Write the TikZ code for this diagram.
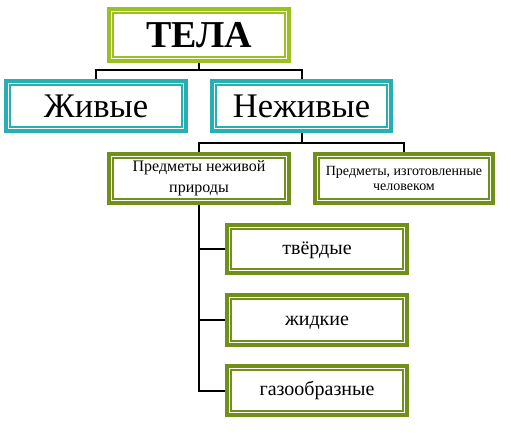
\documentclass[tikz,border=0pt]{standalone}
\usepackage{fontspec}
\setmainfont{Liberation Serif}
\definecolor{telagreen}{RGB}{155,192,32}
\definecolor{bodyteal}{RGB}{38,176,178}
\definecolor{itemgreen}{RGB}{112,144,26}
\tikzset{
  framebox/.style={draw=#1, line width=4pt, fill=white, align=center,
    inner sep=0pt,
    path picture={\draw[#1, line width=1.5pt]
      ([shift={(3.9pt,3.9pt)}]path picture bounding box.south west) rectangle
      ([shift={(-3.9pt,-3.9pt)}]path picture bounding box.north east);}},
  statebox/.style={framebox=itemgreen, minimum width=180pt,
    font=\fontsize{20}{22}\selectfont, text height=1.2em, text depth=0.2em},
  link/.style={draw=black, line width=2pt}
}

\begin{document}
\begin{tikzpicture}[x=1pt,y=-1pt]
  \useasboundingbox (0,0) rectangle (511,433);

  \node [framebox=telagreen, minimum width=180pt, minimum height=52pt,
    font=\fontsize{38}{40}\selectfont\bfseries] (tela) at (199,35) {ТЕЛА};

  \node [framebox=bodyteal, minimum width=180pt, minimum height=50pt,
    font=\fontsize{34.5}{36}\selectfont] (zhivye) at (96,106) {Живые};
  \node [framebox=bodyteal, minimum width=179pt, minimum height=50pt,
    font=\fontsize{34.5}{36}\selectfont] (nezhivye) at (301.5,106) {Неживые};

  \node [framebox=itemgreen, minimum width=180pt, minimum height=49pt,
    font=\fontsize{16}{21}\selectfont] (prirody) at (199,178.5) {Предметы неживой\\природы};
  \node [framebox=itemgreen, minimum width=178pt, minimum height=49pt,
    font=\fontsize{14}{15}\selectfont] (chelovek) at (404,178.5) {Предметы, изготовленные\\человеком};

  \node [statebox, minimum height=48pt] (tverdye) at (317,249) {твёрдые};
  \node [statebox, minimum height=50pt] (zhidkie) at (317,320) {жидкие};
  \node [statebox, minimum height=49pt] (gaz) at (317,390.5) {газообразные};

  \draw [link] (tela.south) -- ++(0,7) coordinate (telafork);
  \draw [link] (zhivye.north) |- (telafork) -| (nezhivye.north);

  \draw [link] (nezhivye.south) -- ++(0,10) coordinate (nezhfork);
  \draw [link] (prirody.north) |- (nezhfork) -| (chelovek.north);

  \draw [link] (prirody.south) |- (tverdye.west);
  \draw [link] (prirody.south) |- (zhidkie.west);
  \draw [link] (prirody.south) |- (gaz.west);
\end{tikzpicture}
\end{document}
